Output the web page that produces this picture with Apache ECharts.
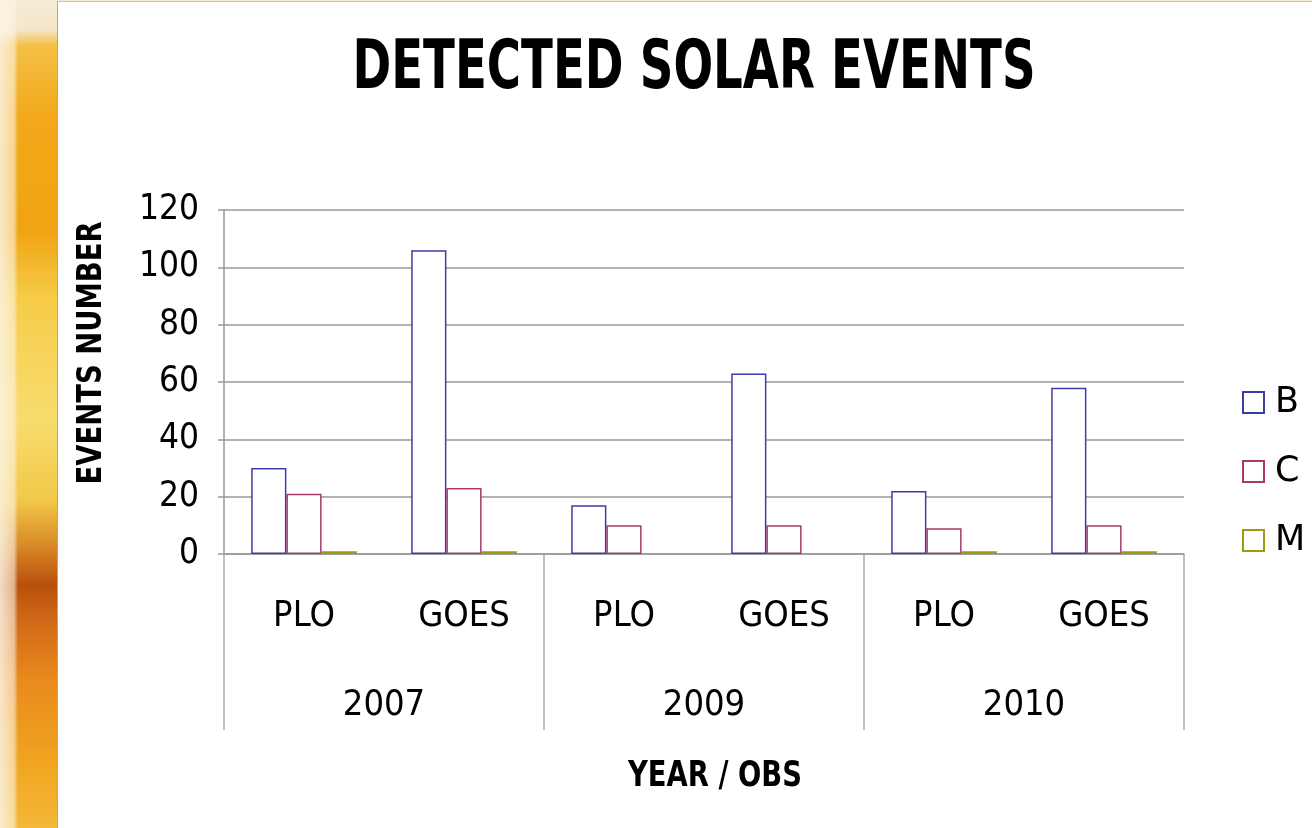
<!DOCTYPE html>
<html>
<head>
<meta charset="utf-8">
<script src="https://cdn.jsdelivr.net/npm/echarts@6/dist/echarts.min.js"></script>
<style>
html,body{margin:0;padding:0;width:1312px;height:828px;overflow:hidden;}
body{
  background:
    linear-gradient(to right, rgba(252,244,228,0.85) 0px, rgba(252,244,228,0.6) 14px, rgba(255,255,255,0) 18px),
    linear-gradient(to bottom, #f6ecd8 0px, #f4e6c8 30px, #f5c048 45px, #f2a818 120px, #f0a414 230px, #f6cc48 300px, #f8dc70 420px, #f2c848 500px, #d88a28 545px, #b8500c 585px, #d06818 620px, #e88a1c 680px, #f0a420 760px, #f4b838 828px);
}
#panel{position:absolute;left:57px;top:1px;width:1255px;height:827px;background:#fff;border-left:1px solid #b0a890;border-top:1px solid #c8c0b0;box-sizing:border-box;}
#chart{position:absolute;left:0;top:0;width:1312px;height:828px;}
</style>
</head>
<body>
<div id="panel"></div>
<div id="chart"></div>
<script>
const observatories = ['PLO', 'GOES', 'PLO', 'GOES', 'PLO', 'GOES'];
const years = ['2007', '2009', '2010'];
const seriesNames = ['B', 'C', 'M'];
const valuesB = [30, 106, 17, 63, 22, 58];
const valuesC = [21, 23, 10, 10, 9, 10];
const valuesM = [1, 1, 0, 0, 1, 1];
const yTicks = [0, 20, 40, 60, 80, 100, 120];
const titleText = 'DETECTED SOLAR EVENTS';
const yAxisTitle = 'EVENTS NUMBER';
const xAxisTitle = 'YEAR / OBS';

const colors = ['#3c3ca8', '#a8386c', '#9c9c10'];
const labelFont = "'DejaVu Sans Condensed', 'DejaVu Sans', sans-serif";

function measure(text, font) {
  const c = document.createElement('canvas').getContext('2d');
  c.font = font;
  return c.measureText(text).width;
}
function squeezed(text, size, targetW, x, y, rot) {
  const font = 'bold ' + size + "px 'DejaVu Sans', sans-serif";
  const w = measure(text, font);
  return {
    type: 'text', x: x, y: y, rotation: rot || 0, scaleX: targetW / w, scaleY: 1,
    style: { text: text, font: font, fill: '#000', align: 'center', verticalAlign: 'middle' },
    silent: true
  };
}

const chart = echarts.init(document.getElementById('chart'), null, { renderer: 'canvas' });
const data = [valuesB, valuesC, valuesM];
chart.setOption({
  backgroundColor: 'transparent',
  animation: false,
  grid: { left: 224, right: 128, top: 210, bottom: 274, containLabel: false },
  legend: {
    orient: 'vertical', left: 1242, top: 385, padding: 0, itemWidth: 21, itemHeight: 21, itemGap: 34,
    icon: 'rect',
    textStyle: { fontSize: 35, color: '#000', fontFamily: "'DejaVu Sans', sans-serif", padding: [0, 0, 0, 6] },
    data: seriesNames
  },
  xAxis: [
    {
      type: 'category', data: observatories, position: 'bottom',
      axisLine: { show: true, lineStyle: { color: '#999', width: 1.5 } },
      axisTick: { show: false },
      axisLabel: { margin: 45, fontSize: 36, color: '#000', fontFamily: labelFont },
      splitLine: { show: false }
    },
    {
      type: 'category', data: years, position: 'bottom', gridIndex: 0,
      axisLine: { show: false },
      axisTick: { show: true, length: 176, lineStyle: { color: '#aaa', width: 1.5 } },
      axisLabel: { margin: 134, fontSize: 36, color: '#000', fontFamily: labelFont },
      splitLine: { show: false }
    }
  ],
  yAxis: {
    type: 'value', min: yTicks[0], max: yTicks[yTicks.length - 1], interval: yTicks[1] - yTicks[0],
    axisLine: { show: true, lineStyle: { color: '#999', width: 1.5 } },
    axisTick: { show: true, length: 6, lineStyle: { color: '#999', width: 1.5 } },
    axisLabel: { margin: 25, fontSize: 35, color: '#000', fontFamily: labelFont },
    splitLine: { show: true, lineStyle: { color: '#999', width: 1.5 } }
  },
  series: seriesNames.map((n, i) => ({
    name: n, type: 'bar', xAxisIndex: 0,
    data: data[i].map(v => v === 0 ? { value: v, itemStyle: { borderWidth: 0 } } : v),
    barGap: '0%', barCategoryGap: '34%',
    itemStyle: { color: '#fff', borderColor: colors[i], borderWidth: 1.5 },
    emphasis: { disabled: true }
  })),
  graphic: [
    squeezed(titleText, 68, 683, 694, 70),
    squeezed(yAxisTitle, 33, 263, 92, 353, Math.PI / 2),
    squeezed(xAxisTitle, 36, 174, 715, 777)
  ]
});
</script>
</body>
</html>
